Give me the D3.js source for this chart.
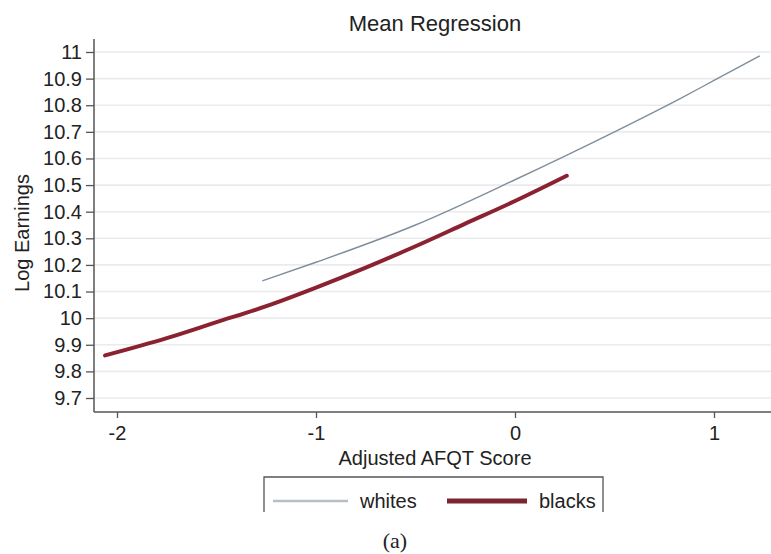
<!DOCTYPE html>
<html>
  <head>
    <title>Mean Regression</title>
    <meta charset="utf-8" />
    <script src="https://cdn.jsdelivr.net/npm/d3@7"></script>
    <style>
      body {
        margin: 0;
        background: #fff;
        font-family: "Liberation Sans", Arial, Helvetica, sans-serif;
      }
    </style>
  </head>
  <body>
  <script>
    // values
    var yTicks = [9.7, 9.8, 9.9, 10, 10.1, 10.2, 10.3, 10.4, 10.5, 10.6, 10.7, 10.8, 10.9, 11];
    var xTicks = [-2, -1, 0, 1];
    var seriesNames = ["whites", "blacks"];

    var whitesX = [-1.27, -1.0, -0.5, 0, 0.5, 0.83, 1.0, 1.23];
    var whitesY = [10.14, 10.21, 10.35, 10.52, 10.7, 10.825, 10.893, 10.985];

    var blacksX = [-2.06, -1.75, -1.5, -1.25, -1.0, -0.75, -0.5, -0.25, 0, 0.26];
    var blacksY = [9.86, 9.925, 9.985, 10.045, 10.115, 10.19, 10.27, 10.355, 10.44, 10.535];

    var svg = d3
      .select("body")
      .append("svg")
      .attr("width", 771)
      .attr("height", 554);

    var x = d3.scaleLinear().domain([-2, 1]).range([117, 714]);
    var y = d3.scaleLinear().domain([9.7, 11]).range([398, 52]);

    // plot frame (named so they don't clash with window.top)
    var plotLeft = 94,
      plotRight = 771,
      plotTop = 39,
      plotBottom = 412;

    // gridlines
    svg
      .selectAll(".grid")
      .data(yTicks)
      .enter()
      .append("line")
      .attr("class", "grid")
      .attr("x1", plotLeft)
      .attr("x2", plotRight)
      .attr("y1", function (d) {
        return y(d);
      })
      .attr("y2", function (d) {
        return y(d);
      })
      .attr("stroke", "#ebebee")
      .attr("stroke-width", 1.6);

    // y axis
    var yAxis = d3
      .axisLeft(y)
      .tickValues(yTicks)
      .tickSize(8)
      .tickPadding(4)
      .tickFormat(function (d) {
        return String(+d.toFixed(1));
      });
    var gy = svg
      .append("g")
      .attr("transform", "translate(" + plotLeft + ",0)")
      .call(yAxis);
    gy.select(".domain").remove();
    gy.append("line")
      .attr("y1", plotTop)
      .attr("y2", plotBottom)
      .attr("stroke", "#555")
      .attr("stroke-width", 1.5);

    // x axis
    var xAxis = d3
      .axisBottom(x)
      .tickValues(xTicks)
      .tickSize(6)
      .tickPadding(8)
      .tickFormat(function (d) {
        return String(d);
      });
    var gx = svg
      .append("g")
      .attr("transform", "translate(0," + plotBottom + ")")
      .call(xAxis);
    gx.select(".domain").remove();
    gx.append("line")
      .attr("x1", plotLeft)
      .attr("x2", plotRight)
      .attr("stroke", "#555")
      .attr("stroke-width", 1.5);

    svg
      .selectAll(".tick line")
      .attr("stroke", "#555")
      .attr("stroke-width", 1.3);
    svg
      .selectAll(".tick text")
      .attr("fill", "#222")
      .style("font-size", "20px")
      .style("font-family", "'Liberation Sans', Arial, sans-serif");

    // lines
    var line = d3
      .line()
      .x(function (d) {
        return x(d[0]);
      })
      .y(function (d) {
        return y(d[1]);
      })
      .curve(d3.curveMonotoneX);

    var whites = whitesX.map(function (d, i) {
      return [d, whitesY[i]];
    });
    var blacks = blacksX.map(function (d, i) {
      return [d, blacksY[i]];
    });

    svg
      .append("path")
      .datum(whites)
      .attr("d", line)
      .attr("fill", "none")
      .attr("stroke", "#7f8e9c")
      .attr("stroke-width", 1.4);

    svg
      .append("path")
      .datum(blacks)
      .attr("d", line)
      .attr("fill", "none")
      .attr("stroke", "#8b2232")
      .attr("stroke-width", 4)
      .attr("stroke-linecap", "round");

    // titles
    svg
      .append("text")
      .attr("x", 435)
      .attr("y", 31)
      .attr("text-anchor", "middle")
      .attr("fill", "#222")
      .style("font-size", "22px")
      .text("Mean Regression");

    svg
      .append("text")
      .attr("x", 435)
      .attr("y", 465)
      .attr("text-anchor", "middle")
      .attr("fill", "#222")
      .style("font-size", "20px")
      .text("Adjusted AFQT Score");

    svg
      .append("text")
      .attr("transform", "translate(29,233) rotate(-90)")
      .attr("text-anchor", "middle")
      .attr("fill", "#222")
      .style("font-size", "20px")
      .text("Log Earnings");

    // legend (box open at the bottom, as cropped in the source)
    svg
      .append("path")
      .attr("d", "M264,512 V477 H603 V512")
      .attr("fill", "none")
      .attr("stroke", "#555")
      .attr("stroke-width", 1.3);

    var legendColors = ["#b6bec6", "#7d2431"];
    var legendWidths = [2.5, 5];
    var legendX = [273, 447];
    var legendLen = [75, 80];

    var leg = svg
      .selectAll(".leg")
      .data(seriesNames)
      .enter()
      .append("g")
      .attr("class", "leg");

    leg
      .append("line")
      .attr("x1", function (d, i) {
        return legendX[i];
      })
      .attr("x2", function (d, i) {
        return legendX[i] + legendLen[i];
      })
      .attr("y1", 501)
      .attr("y2", 501)
      .attr("stroke", function (d, i) {
        return legendColors[i];
      })
      .attr("stroke-width", function (d, i) {
        return legendWidths[i];
      });

    leg
      .append("text")
      .attr("x", function (d, i) {
        return legendX[i] + legendLen[i] + 12;
      })
      .attr("y", 508)
      .attr("fill", "#222")
      .style("font-size", "20px")
      .text(function (d) {
        return d;
      });

    svg
      .append("text")
      .attr("x", 395)
      .attr("y", 548)
      .attr("text-anchor", "middle")
      .attr("fill", "#222")
      .style("font-family", "'Liberation Serif', 'DejaVu Serif', serif")
      .style("font-size", "22px")
      .text("(a)");
  </script>
  </body>
</html>
